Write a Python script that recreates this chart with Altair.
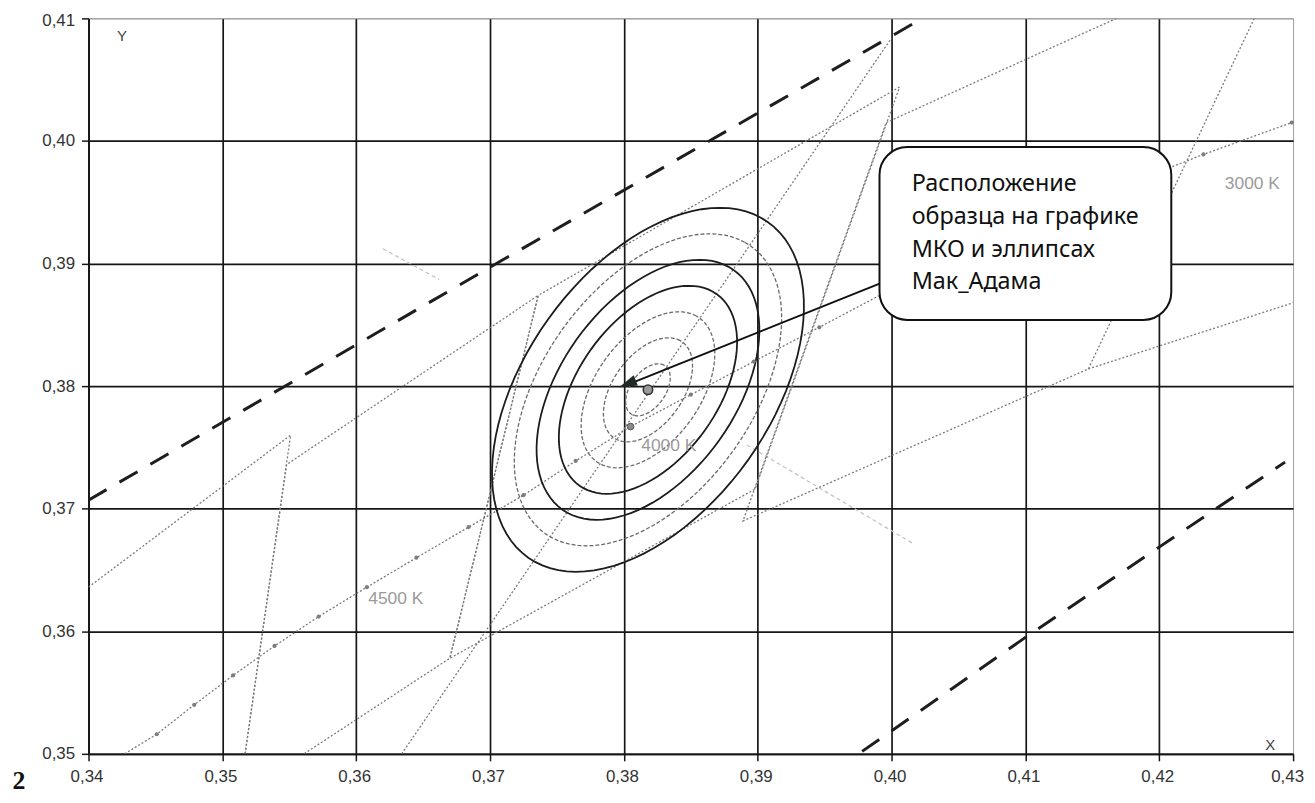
import altair as alt
import pandas as pd
import numpy as np

# ---------------- axes ----------------
x_ticks = [0.34, 0.35, 0.36, 0.37, 0.38, 0.39, 0.40, 0.41, 0.42, 0.43]
y_ticks = [0.35, 0.36, 0.37, 0.38, 0.39, 0.40, 0.41]

# ---------------- ANSI quadrangles (visible parts) ----------------
q5000_x = [0.3400, 0.3551, 0.3517]
q5000_y = [0.3636, 0.3760, 0.3500]
q4500_x = [0.3517, 0.3548, 0.3736, 0.3670, 0.3561]
q4500_y = [0.3500, 0.3736, 0.3874, 0.3578, 0.3500]
q4000_x = [0.4006, 0.3736, 0.3670, 0.3898, 0.4006]
q4000_y = [0.4044, 0.3874, 0.3578, 0.3716, 0.4044]
q3500_x = [0.4168, 0.3996, 0.3889, 0.4147, 0.4271]
q3500_y = [0.4100, 0.4015, 0.3690, 0.3814, 0.4100]
q3000_x = [0.4147, 0.4300]
q3000_y = [0.3814, 0.3868]

# ellipse axis lines (major axis dotted; minor axis faint, visible parts only)
major_x = [0.3634, 0.4000]
major_y = [0.3500, 0.4084]
minor_left_x = [0.3620, 0.3662]
minor_left_y = [0.3912, 0.3887]
minor_right_x = [0.3892, 0.4017]
minor_right_y = [0.3752, 0.3671]

# ---------------- Planckian locus ----------------
planck_T = [5000, 4900, 4800, 4700, 4600, 4500, 4400, 4300, 4200, 4100,
            4000, 3900, 3800, 3700, 3600, 3500, 3400, 3300, 3200, 3100]
planck_x = [0.3451, 0.3479, 0.3508, 0.3539, 0.3572, 0.3608, 0.3645, 0.3684, 0.3725, 0.3764,
            0.3805, 0.3850, 0.3897, 0.3946, 0.3998, 0.4053, 0.4110, 0.4170, 0.4233, 0.4299]
planck_y = [0.3516, 0.3540, 0.3564, 0.3588, 0.3612, 0.3636, 0.3660, 0.3685, 0.3711, 0.3739,
            0.3767, 0.3793, 0.3820, 0.3848, 0.3878, 0.3907, 0.3935, 0.3962, 0.3989, 0.4015]
locus_start_x = [0.3427]
locus_start_y = [0.3500]

# ---------------- thick dashed boundaries ----------------
upper_x = [0.3400, 0.3700, 0.4023]
upper_y = [0.3707, 0.3897, 0.4100]
lower_x = [0.3978, 0.4100, 0.4294]
lower_y = [0.3502, 0.3595, 0.3738]

# ---------------- MacAdam ellipses ----------------
ell_cx = 0.3818
ell_cy = 0.3797
ell_steps = [1, 2, 3, 4, 5, 6, 7]
ell_black_steps = [4, 5, 7]
ell_a_per_step = 0.00234
ell_b_per_step = 0.00134
ell_tilt_deg = 59.0

# ---------------- points ----------------
centre_x = [0.3818]
centre_y = [0.3797]
big4000_x = [0.3805]
big4000_y = [0.3767]

# ---------------- texts ----------------
cct_text = ["4500 K", "4000 K", "3000 K"]
cct_x = [0.3609, 0.3813, 0.4249]
cct_y = [0.3626, 0.3751, 0.3965]
axletter_text = ["Y", "X"]
axletter_x = [0.3425, 0.4283]
axletter_y = [0.4086, 0.3507]
fig_text = ["2"]
fig_x = [0.3348]
fig_y = [0.3478]

box_x = [0.3991]
box_x2 = [0.4209]
box_y = [0.3995]
box_y2 = [0.3854]
box_lines = ["Расположение", "образца на графике", "МКО и эллипсах", "Мак_Адама"]
box_line_x = [0.4015, 0.4015, 0.4015, 0.4015]
box_line_y = [0.3965, 0.3938, 0.3911, 0.3885]

arrow_x = [0.3992, 0.3800]
arrow_y = [0.3884, 0.3800]
head_x = [0.38027]
head_y = [0.38019]

# ---------------- build tables ----------------
def poly(name, xs, ys):
    return pd.DataFrame({"x": xs, "y": ys, "g": name, "o": list(range(len(xs)))})

quads = pd.concat([
    poly("q5000", q5000_x, q5000_y),
    poly("q4500", q4500_x, q4500_y),
    poly("q4000", q4000_x, q4000_y),
    poly("q3500", q3500_x, q3500_y),
    poly("q3000", q3000_x, q3000_y),
    poly("major", major_x, major_y),
], ignore_index=True)
minor_df = pd.concat([poly("mL", minor_left_x, minor_left_y),
                      poly("mR", minor_right_x, minor_right_y)], ignore_index=True)
locus_df = poly("locus", locus_start_x + planck_x, locus_start_y + planck_y)
dots_df = pd.DataFrame({"x": planck_x, "y": planck_y, "T": planck_T})
dashed_df = pd.concat([poly("up", upper_x, upper_y), poly("lo", lower_x, lower_y)], ignore_index=True)

rows = []
th = np.deg2rad(ell_tilt_deg)
t = np.linspace(0, 2 * np.pi, 97)
for n in ell_steps:
    a = n * ell_a_per_step
    b = n * ell_b_per_step
    ex = ell_cx + a * np.cos(t) * np.cos(th) - b * np.sin(t) * np.sin(th)
    ey = ell_cy + a * np.cos(t) * np.sin(th) + b * np.sin(t) * np.cos(th)
    for k in range(len(t)):
        rows.append({"x": ex[k], "y": ey[k], "g": n, "o": k,
                     "black": n in ell_black_steps})
ell_df = pd.DataFrame(rows)

x_scale = alt.Scale(domain=[0.34, 0.43], nice=False, zero=False)
y_scale = alt.Scale(domain=[0.35, 0.41], nice=False, zero=False)
lab = "replace(format(datum.value, '.2f'), '.', ',')"

x_axis = alt.Axis(values=x_ticks, title=None, labelExpr=lab, grid=True,
                  gridColor=alt.condition("datum.value > 0.4295", alt.value("#a0a0a0"), alt.value("#161616")),
                  gridWidth=alt.condition("datum.value > 0.4295", alt.value(1), alt.value(1.7)),
                  labelOffset=alt.condition("datum.value > 0.4295", alt.value(-6), alt.value(-2)),
                  domainColor="#161616", domainWidth=1.8, tickColor="#161616", tickWidth=1.5,
                  tickSize=7, labelFont="Liberation Sans", labelFontSize=17, labelColor="#333",
                  labelPadding=8, labelFlush=False, labelOverlap=False)
y_axis = alt.Axis(values=y_ticks, title=None, labelExpr=lab, grid=True,
                  gridColor=alt.condition("datum.value > 0.4095", alt.value("#707070"), alt.value("#161616")),
                  gridWidth=alt.condition("datum.value > 0.4095", alt.value(1), alt.value(1.7)),
                  labelOffset=alt.condition("datum.value > 0.4095", alt.value(2), alt.value(0)),
                  domainColor="#161616", domainWidth=1.8, tickColor="#161616", tickWidth=1.5,
                  tickSize=7, labelFont="Liberation Sans", labelFontSize=17, labelColor="#333",
                  labelPadding=7, labelFlush=False, labelOverlap=False)

X = alt.X("x:Q", scale=x_scale, axis=x_axis)
Y = alt.Y("y:Q", scale=y_scale, axis=y_axis)

grid_layer = alt.Chart(quads).mark_line(opacity=0).encode(x=X, y=Y, detail="g:N", order="o:Q")

quad_layer = alt.Chart(quads).mark_line(color="#7a7a7a", strokeWidth=1.3, strokeDash=[2, 2], clip=True).encode(
    x=X, y=Y, detail="g:N", order="o:Q")
minor_layer = alt.Chart(minor_df).mark_line(color="#c4c4c4", strokeWidth=1.3, strokeDash=[4, 3], clip=True).encode(
    x=X, y=Y, detail="g:N", order="o:Q")
locus_layer = alt.Chart(locus_df).mark_line(color="#7a7a7a", strokeWidth=1.3, strokeDash=[2, 2], clip=True).encode(
    x=X, y=Y, order="o:Q")
ell_gray = alt.Chart(ell_df).transform_filter("!datum.black").mark_line(
    color="#6a6a6a", strokeWidth=1.3, strokeDash=[4, 2]).encode(x=X, y=Y, detail="g:N", order="o:Q")
ell_black = alt.Chart(ell_df).transform_filter("datum.black").mark_line(
    color="#1c1c1c", strokeWidth=1.8).encode(x=X, y=Y, detail="g:N", order="o:Q")
dashed_layer = alt.Chart(dashed_df).mark_line(color="#1e1e1e", strokeWidth=3, strokeDash=[21, 15], clip=True).encode(
    x=X, y=Y, detail="g:N", order="o:Q")
dots_layer = alt.Chart(dots_df).mark_point(filled=True, color="#7d7d7d", size=18, opacity=1).encode(x=X, y=Y)
big4000 = alt.Chart(pd.DataFrame({"x": big4000_x, "y": big4000_y})).mark_point(
    filled=True, fill="#8c8c8c", stroke="#555", strokeWidth=1, size=45, opacity=1).encode(x=X, y=Y)
centre = alt.Chart(pd.DataFrame({"x": centre_x, "y": centre_y})).mark_point(
    filled=True, fill="#9a9a9a", stroke="#333", strokeWidth=1.6, size=90, opacity=1).encode(x=X, y=Y)

cct_layer = alt.Chart(pd.DataFrame({"x": cct_x, "y": cct_y, "t": cct_text})).mark_text(
    align="left", baseline="middle", font="Liberation Sans", fontSize=17.5, color="#9a9a9a").encode(
    x=X, y=Y, text="t:N")
letters = alt.Chart(pd.DataFrame({"x": axletter_x, "y": axletter_y, "t": axletter_text})).mark_text(
    align="center", baseline="middle", font="Liberation Sans", fontSize=15, color="#444").encode(
    x=X, y=Y, text="t:N")
fignum = alt.Chart(pd.DataFrame({"x": fig_x, "y": fig_y, "t": fig_text})).mark_text(
    align="center", baseline="middle", font="Liberation Serif", fontSize=26, fontWeight="bold",
    color="#111").encode(x=X, y=Y, text="t:N")

arrow_line = alt.Chart(poly("arrow", arrow_x, arrow_y)).mark_line(color="#111", strokeWidth=2).encode(
    x=X, y=Y, order="o:Q")
arrow_head = alt.Chart(pd.DataFrame({"x": head_x, "y": head_y})).mark_point(
    shape="M-1,0L1,-0.62L1,0.62Z", filled=True, color="#1d2a28", size=324, angle=338, opacity=1).encode(x=X, y=Y)

box = alt.Chart(pd.DataFrame({"x": box_x, "x2": box_x2, "y": box_y, "y2": box_y2})).mark_rect(
    fill="white", stroke="#111", strokeWidth=2, cornerRadius=28).encode(
    x=X, x2="x2:Q", y=Y, y2="y2:Q")
box_text = alt.Chart(pd.DataFrame({"x": box_line_x, "y": box_line_y, "t": box_lines})).mark_text(
    align="left", baseline="middle", font="Noto Sans", fontSize=23.5, color="#111").encode(
    x=X, y=Y, text="t:N")

chart = alt.layer(
    grid_layer, minor_layer, quad_layer, locus_layer, ell_gray, ell_black, dashed_layer,
    dots_layer, big4000, centre, cct_layer, letters, fignum, arrow_line, arrow_head, box, box_text
).properties(
    width=1212, height=740,
    padding={"left": 81, "top": 8, "right": 14, "bottom": 46},
    autosize=alt.AutoSizeParams(type="none"),
    background="white",
).configure_view(stroke=None)

chart.save("out.html", embed_options={"renderer": "svg", "actions": False})
